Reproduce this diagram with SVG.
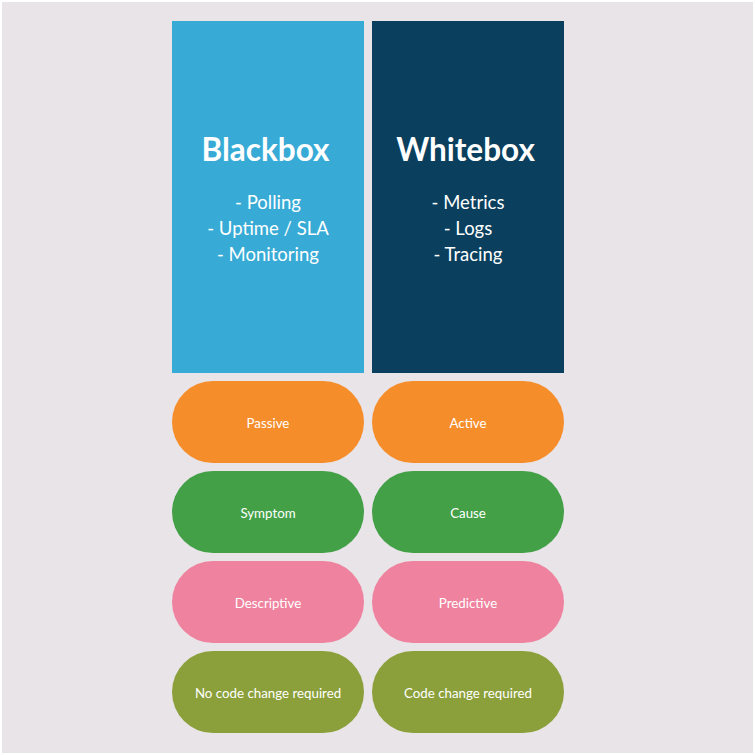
<svg xmlns="http://www.w3.org/2000/svg" width="755" height="755" viewBox="0 0 755 755">
<style>
.t{font-family:Lato,"Open Sans","Liberation Sans",sans-serif;fill:#fff;text-anchor:middle}
.title{font-size:31.5px;font-weight:bold}
.item{font-size:18.5px}
.pl{font-size:13.3px}
</style>
<rect x="0" y="0" width="755" height="755" fill="#ffffff"/>
<rect x="2" y="2" width="751" height="751" fill="#E8E4E8"/>
<g id="blackbox">
<rect x="172" y="21" width="192" height="352" fill="#37ABD6"/>
<text class="t title" x="265.5" y="161">Blackbox</text>
<text class="t item" x="268" y="209">- Polling</text>
<text class="t item" x="268" y="235">- Uptime / SLA</text>
<text class="t item" x="268" y="261">- Monitoring</text>
</g>
<g id="whitebox">
<rect x="372" y="21" width="192" height="352" fill="#0A405E"/>
<text class="t title" x="465.5" y="161">Whitebox</text>
<text class="t item" x="468" y="209">- Metrics</text>
<text class="t item" x="468" y="235">- Logs</text>
<text class="t item" x="468" y="261">- Tracing</text>
</g>
<g id="passive"><rect x="172" y="381" width="192" height="82" rx="41" fill="#F58D2B"/><text class="t pl" x="268" y="428">Passive</text></g>
<g id="active"><rect x="372" y="381" width="192" height="82" rx="41" fill="#F58D2B"/><text class="t pl" x="468" y="428">Active</text></g>
<g id="symptom"><rect x="172" y="471" width="192" height="82" rx="41" fill="#43A047"/><text class="t pl" x="268" y="518">Symptom</text></g>
<g id="cause"><rect x="372" y="471" width="192" height="82" rx="41" fill="#43A047"/><text class="t pl" x="468" y="518">Cause</text></g>
<g id="descriptive"><rect x="172" y="561" width="192" height="82" rx="41" fill="#EF829E"/><text class="t pl" x="268" y="608">Descriptive</text></g>
<g id="predictive"><rect x="372" y="561" width="192" height="82" rx="41" fill="#EF829E"/><text class="t pl" x="468" y="608">Predictive</text></g>
<g id="nocode"><rect x="172" y="651" width="192" height="82" rx="41" fill="#8BA03A"/><text class="t pl" x="268" y="698">No code change required</text></g>
<g id="code"><rect x="372" y="651" width="192" height="82" rx="41" fill="#8BA03A"/><text class="t pl" x="468" y="698">Code change required</text></g>
<g id="connectors"/>
</svg>
